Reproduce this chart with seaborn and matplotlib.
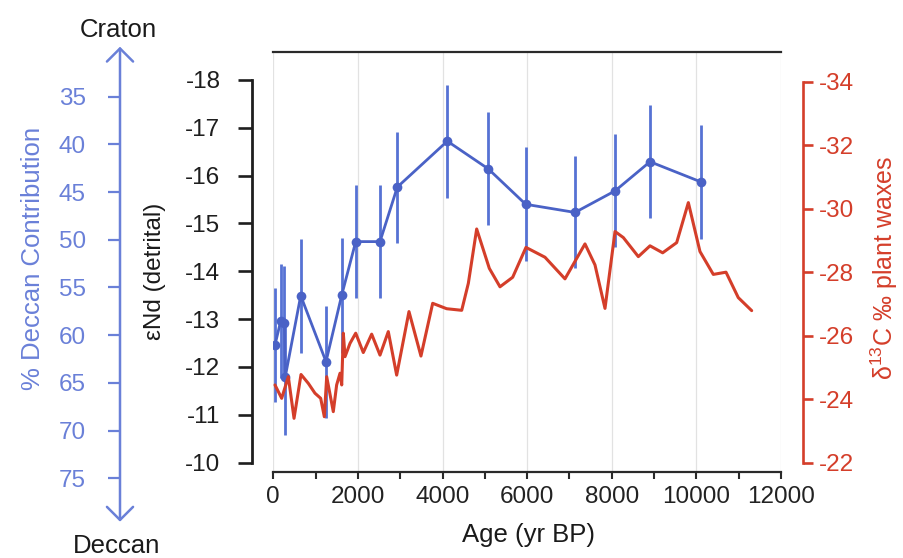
import matplotlib
matplotlib.use("Agg")
import matplotlib.pyplot as plt
import seaborn as sns
import numpy as np
import pandas as pd

# eNd (detrital) with 2-sigma error bars
age_nd = [40, 175, 262, 280, 648, 1246, 1617, 1948, 2522, 2931, 4113,
          5082, 5965, 7131, 8077, 8904, 10101]
end_nd = [-12.46, -12.96, -12.92, -11.78, -13.49, -12.11, -13.5, -14.62,
          -14.62, -15.76, -16.72, -16.14, -15.4, -15.23, -15.68, -16.29, -15.87]
err_nd = [1.19, 1.19, 1.2, 1.2, 1.19, 1.17, 1.2, 1.18, 1.18, 1.16, 1.18,
          1.18, 1.19, 1.17, 1.18, 1.18, 1.19]

# d13C of plant waxes
age_c = [40, 198, 355, 490, 655, 828, 985, 1120, 1206, 1262, 1418, 1497,
         1577, 1617, 1655, 1695, 1813, 1948, 2127, 2325, 2522, 2718, 2916,
         3207, 3490, 3767, 4098, 4453, 4610, 4807, 5106, 5358, 5658, 5972,
         6422, 6894, 7367, 7603, 7840, 8077, 8273, 8628, 8904, 9203, 9534,
         9810, 10085, 10400, 10700, 10990, 11307]
d13c = [-24.45, -24.03, -24.71, -23.40, -24.78, -24.50, -24.19, -24.03,
        -23.45, -24.71, -23.61, -24.45, -24.82, -24.45, -26.08, -25.34,
        -25.76, -26.08, -25.47, -26.05, -25.39, -26.13, -24.76, -26.76,
        -25.36, -27.02, -26.85, -26.80, -27.65, -29.36, -28.12, -27.54,
        -27.84, -28.78, -28.47, -27.79, -28.89, -28.23, -26.86, -29.28,
        -29.09, -28.49, -28.83, -28.61, -28.93, -30.19, -28.65, -27.93,
        -28.0, -27.2, -26.79]

x_ticks = [0, 2000, 4000, 6000, 8000, 10000, 12000]
nd_ticks = [-18, -17, -16, -15, -14, -13, -12, -11, -10]
c_ticks = [-34, -32, -30, -28, -26, -24, -22]
deccan_ticks = [35, 40, 45, 50, 55, 60, 65, 70, 75]

nd_df = pd.DataFrame({"age": age_nd, "end": end_nd, "err": err_nd})
c_df = pd.DataFrame({"age": age_c, "d13c": d13c})

sns.set_theme(style="white")
plt.rcParams["font.family"] = ["Liberation Sans", "DejaVu Sans"]
plt.rcParams["axes.unicode_minus"] = False
plt.rcParams["mathtext.fontset"] = "custom"
plt.rcParams["mathtext.rm"] = "Liberation Sans"
plt.rcParams["mathtext.it"] = "Liberation Sans:italic"
plt.rcParams["mathtext.bf"] = "Liberation Sans:bold"

blue = "#4a62c6"
blue_err = "#5672d4"
blue_axis = "#6a80d8"
red = "#d43e2a"
dark = "#1e1e1e"

W, H = 904, 558
fig = plt.figure(figsize=(W / 100, H / 100), dpi=100)

def fx(px):
    return px / W

def fy(py):
    return 1 - py / H

# main axes (eNd)
ax = fig.add_axes([fx(273.3), fy(471.7), (781 - 273.3) / W, (471.7 - 51.7) / H])
ax.patch.set_visible(False)
ax.errorbar(nd_df["age"], nd_df["end"], yerr=nd_df["err"], fmt="none",
            ecolor=blue_err, elinewidth=2.0, capsize=0, zorder=2)
sns.lineplot(data=nd_df, x="age", y="end", ax=ax, color=blue, lw=2.0,
             marker="o", markersize=7, markeredgewidth=0, zorder=3)
ax.set_xlim(0, 12000)
ax.set_ylim(-9.81, -18.59)
ax.set_xticks(x_ticks)
ax.set_xticks(range(1000, 12000, 2000), minor=True)
ax.set_yticks(nd_ticks)
ax.set_yticklabels([str(t) for t in nd_ticks])
ax.set_xlabel("")
ax.set_ylabel("")
ax.xaxis.grid(True, which="major", color="#e2e2e2", lw=0.9)
ax.yaxis.grid(False)
ax.spines["right"].set_visible(False)
ax.spines["left"].set_position(("outward", 15.1))
ax.spines["left"].set_bounds(-18, -10)
ax.spines["left"].set_linewidth(2.0)
ax.spines["left"].set_color(dark)
for s in ["top", "bottom"]:
    ax.spines[s].set_linewidth(1.6)
    ax.spines[s].set_color("#2a2a2a")
ax.tick_params(axis="y", which="major", left=True, direction="out", length=10,
               width=1.9, pad=13, labelsize=17.5, color=dark, labelcolor=dark)
ax.tick_params(axis="x", which="both", bottom=True, direction="out", length=5,
               width=1.5, pad=5, labelsize=17.5, color="#2a2a2a", labelcolor="#222222")

# right axis (d13C)
ax_r = ax.twinx()
sns.lineplot(data=c_df, x="age", y="d13c", ax=ax_r, color=red, lw=2.2)
ax_r.set_ylim(-21.72, -34.94)
ax_r.set_yticks(c_ticks)
ax_r.set_yticklabels([str(t) for t in c_ticks])
ax_r.set_xlabel("")
ax_r.set_ylabel("")
ax_r.grid(False)
for s in ["top", "bottom", "left"]:
    ax_r.spines[s].set_visible(False)
ax_r.spines["right"].set_position(("outward", 16))
ax_r.spines["right"].set_bounds(-34, -22)
ax_r.spines["right"].set_color(red)
ax_r.spines["right"].set_linewidth(1.9)
ax_r.tick_params(axis="y", right=True, left=False, direction="out", length=7,
                 width=1.9, pad=4.5, labelsize=17.5, color=red, labelcolor=red)

# far-left axis (% Deccan contribution)
ax_b = fig.add_axes([fx(120), fy(521.7), 0.001, (521.7 - 46.7) / H])
ax_b.patch.set_visible(False)
ax_b.set_ylim(79.55, 29.76)
ax_b.set_yticks(deccan_ticks)
ax_b.set_yticklabels([str(t) for t in deccan_ticks])
ax_b.set_xticks([])
ax_b.grid(False)
for s in ax_b.spines.values():
    s.set_visible(False)
ax_b.tick_params(axis="y", left=True, direction="out", length=8.6, width=1.6,
                 pad=16, labelsize=17.5, color=blue_axis, labelcolor=blue_axis)
ax_b.annotate("", xy=(0, 1), xytext=(0, 0), xycoords="axes fraction",
              arrowprops=dict(arrowstyle="<->,head_length=0.47,head_width=0.47",
                              color=blue_axis, lw=1.8, shrinkA=0, shrinkB=0,
                              mutation_scale=20))

# labels
fig.text(fx(118), fy(36.7), "Craton", ha="center", va="baseline", size=18.5, color="#1a1a1a")
fig.text(fx(117), fy(553), "Deccan", ha="center", va="baseline", size=18.5, color="#1a1a1a")
fig.text(fx(33), fy(258), "% Deccan Contribution", rotation=90, ha="center",
         va="center", size=18.5, color=blue_axis)
fig.text(fx(155), fy(271), "εNd (detrital)", rotation=90, ha="center",
         va="center", size=17.5, color="#1a1a1a")
fig.text(fx(884), fy(268), "δ$^{\\mathrm{13}}$C ‰ plant waxes", rotation=90,
         ha="center", va="center", size=18, color=red)
fig.text(fx(529), fy(535), "Age (yr BP)", ha="center", va="center", size=18.5,
         color="#1a1a1a")

fig.savefig("out.png", dpi=100)
